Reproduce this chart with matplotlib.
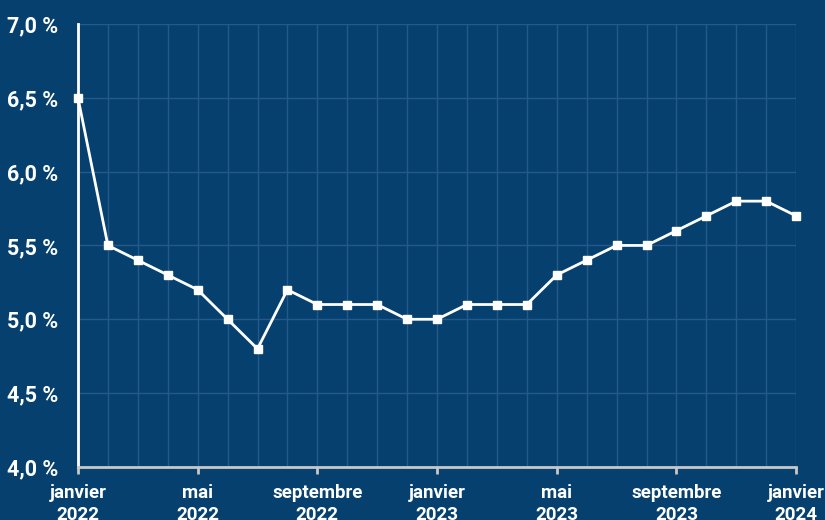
import matplotlib.pyplot as plt
import numpy as np

# monthly rate, janvier 2022 -> janvier 2024
values = [6.5, 5.5, 5.4, 5.3, 5.2, 5.0, 4.8, 5.2, 5.1, 5.1, 5.1, 5.0, 5.0,
          5.1, 5.1, 5.1, 5.3, 5.4, 5.5, 5.5, 5.6, 5.7, 5.8, 5.8, 5.7]
tick_months = [0, 4, 8, 12, 16, 20, 24]
tick_labels = ['janvier\n2022', 'mai\n2022', 'septembre\n2022', 'janvier\n2023',
               'mai\n2023', 'septembre\n2023', 'janvier\n2024']
y_ticks = [4.0, 4.5, 5.0, 5.5, 6.0, 6.5, 7.0]
y_labels = ['4,0 %', '4,5 %', '5,0 %', '5,5 %', '6,0 %', '6,5 %', '7,0 %']

bg = '#06406f'
plt.rcParams['font.family'] = ['Roboto', 'DejaVu Sans']

fig = plt.figure(figsize=(8.25, 5.2), dpi=100, facecolor=bg)
ax = fig.add_axes([0.0945, 0.102, 0.8705, 0.852])
ax.set_facecolor(bg)

x = np.arange(len(values))
for m in x:
    ax.axvline(m, color='#245a8b', lw=1, zorder=1)
for yv in y_ticks:
    ax.axhline(yv, color='#245a8b', lw=1, zorder=1)

ax.plot(x, values, '-s', color='white', lw=2, markersize=6, zorder=3, clip_on=False)

ax.set_xlim(0, len(values) - 1)
ax.set_ylim(4.0, 7.0)
ax.set_xticks(tick_months)
ax.set_xticklabels(tick_labels, fontsize=13.5, fontweight='bold', color='white', linespacing=1.3)
ax.set_yticks(y_ticks)
ax.set_yticklabels(y_labels, fontsize=15.5, fontweight='bold', color='white')
ax.tick_params(axis='y', length=0, pad=14)
ax.tick_params(axis='x', length=5, width=2, color='#c8c8c8', pad=7)

for s in ['top', 'right']:
    ax.spines[s].set_visible(False)
ax.spines['left'].set_color('white')
ax.spines['left'].set_linewidth(2)
ax.spines['bottom'].set_color('#c8c8c8')
ax.spines['bottom'].set_linewidth(2)

fig.savefig('out.png', dpi=100, facecolor=bg)
